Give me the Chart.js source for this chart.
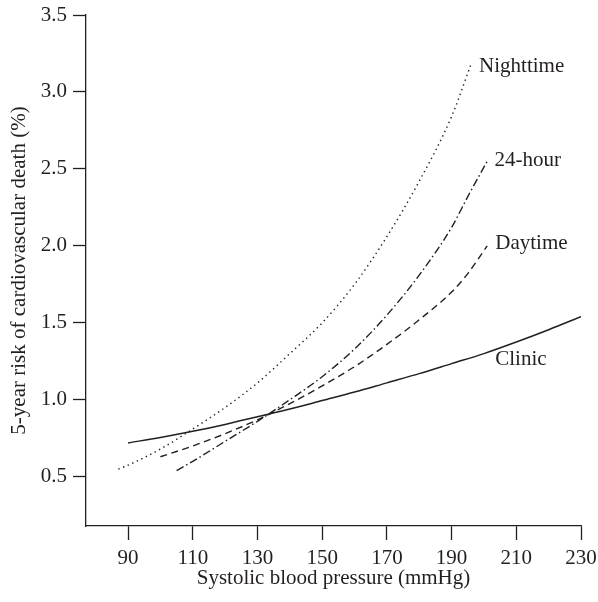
<!DOCTYPE html>
<html>
<head>
<meta charset="utf-8">
<script src="https://cdn.jsdelivr.net/npm/chart.js@4"></script>
<style>
  html, body { margin: 0; padding: 0; background: #fff; }
  #wrap { width: 598px; height: 602px; position: relative; }
</style>
</head>
<body>
<div id="wrap"><canvas id="c" width="598" height="602"></canvas></div>
<script>
// ---- Data ----
const xTickValues = [90, 110, 130, 150, 170, 190, 210, 230];
const yTickValues = [0.5, 1.0, 1.5, 2.0, 2.5, 3.0, 3.5];

const nightBP   = [87, 90, 100, 110, 120, 130, 140, 150, 160, 170, 180, 190, 196];
const nightRisk = [0.55, 0.575, 0.68, 0.81, 0.95, 1.11, 1.30, 1.50, 1.75, 2.06, 2.42, 2.84, 3.18];

const h24BP   = [105, 110, 120, 130, 140, 150, 160, 170, 180, 190, 195, 201];
const h24Risk = [0.54, 0.60, 0.73, 0.86, 1.00, 1.15, 1.33, 1.55, 1.81, 2.12, 2.32, 2.55];

const dayBP   = [100, 110, 120, 130, 140, 150, 160, 170, 180, 190, 195, 201];
const dayRisk = [0.63, 0.70, 0.78, 0.87, 0.975, 1.09, 1.215, 1.36, 1.52, 1.70, 1.82, 2.00];

const clinicBP   = [90, 100, 110, 120, 130, 140, 150, 160, 170, 180, 190, 200, 210, 220, 230];
const clinicRisk = [0.72, 0.755, 0.795, 0.84, 0.89, 0.94, 0.995, 1.05, 1.11, 1.17, 1.235, 1.30, 1.375, 1.455, 1.54];

const seriesNames = ['Nighttime', '24-hour', 'Daytime', 'Clinic'];
// label anchors in data units (systolic BP, risk)
const labelBP   = [198.5, 203.3, 203.5, 203.5];
const labelRisk = [3.165, 2.556, 2.015, 1.26];

// ---- Styling ----
const INK = '#231f20';
const FONT = '"Liberation Serif", "DejaVu Serif", serif';
const FS = 21;

function pts(xs, ys) { return xs.map((x, i) => ({ x: x, y: ys[i] })); }

const labelPlugin = {
  id: 'seriesLabels',
  afterDatasetsDraw(chart) {
    const ctx = chart.ctx;
    const xs = chart.scales.x, ys = chart.scales.y;
    ctx.save();
    ctx.fillStyle = INK;
    ctx.font = FS + 'px ' + FONT;
    ctx.textAlign = 'left';
    ctx.textBaseline = 'middle';
    seriesNames.forEach((n, i) => {
      ctx.fillText(n, xs.getPixelForValue(labelBP[i]), ys.getPixelForValue(labelRisk[i]));
    });
    ctx.restore();
  }
};

const common = { pointRadius: 0, fill: false, borderColor: INK, cubicInterpolationMode: 'monotone', borderCapStyle: 'butt' };

new Chart(document.getElementById('c'), {
  type: 'line',
  data: {
    datasets: [
      Object.assign({ label: seriesNames[0], data: pts(nightBP, nightRisk), borderWidth: 1.4, borderDash: [1.4, 3.6] }, common),
      Object.assign({ label: seriesNames[1], data: pts(h24BP, h24Risk), borderWidth: 1.4, borderDash: [8, 3, 1.5, 3] }, common),
      Object.assign({ label: seriesNames[2], data: pts(dayBP, dayRisk), borderWidth: 1.4, borderDash: [7, 4.5] }, common),
      Object.assign({ label: seriesNames[3], data: pts(clinicBP, clinicRisk), borderWidth: 1.5 }, common)
    ]
  },
  options: {
    responsive: false,
    animation: false,
    events: [],
    layout: { padding: { top: 15, right: 17, left: 0, bottom: 0 } },
    plugins: { legend: { display: false }, tooltip: { enabled: false } },
    scales: {
      x: {
        type: 'linear',
        min: 77, max: 230,
        afterBuildTicks(s) { s.ticks = xTickValues.map(v => ({ value: v })); },
        afterFit(s) { s.height = 76; s.paddingLeft = 0; s.paddingRight = 0; },
        border: { display: true, color: INK, width: 1.3 },
        grid: { display: true, drawOnChartArea: false, drawTicks: true, tickLength: 14, tickColor: INK, tickWidth: 1.3 },
        ticks: { color: INK, font: { family: FONT, size: FS }, padding: 6, maxRotation: 0, autoSkip: false },
        title: { display: true, text: 'Systolic blood pressure (mmHg)', color: INK, font: { family: FONT, size: FS }, padding: { top: 2, bottom: 11 } }
      },
      y: {
        type: 'linear',
        min: 0.18, max: 3.5,
        afterBuildTicks(s) { s.ticks = yTickValues.map(v => ({ value: v })); },
        afterFit(s) { s.width = 86; s.paddingTop = 0; s.paddingBottom = 0; },
        border: { display: true, color: INK, width: 1.3 },
        grid: { display: true, drawOnChartArea: false, drawTicks: true, tickLength: 13, tickColor: INK, tickWidth: 1.3 },
        ticks: { color: INK, font: { family: FONT, size: FS }, padding: 6, autoSkip: false, callback: v => v.toFixed(1) },
        title: { display: true, text: '5-year risk of cardiovascular death (%)', color: INK, font: { family: FONT, size: FS }, padding: { top: 7, bottom: 0 } }
      }
    }
  },
  plugins: [labelPlugin]
});
</script>
</body>
</html>
